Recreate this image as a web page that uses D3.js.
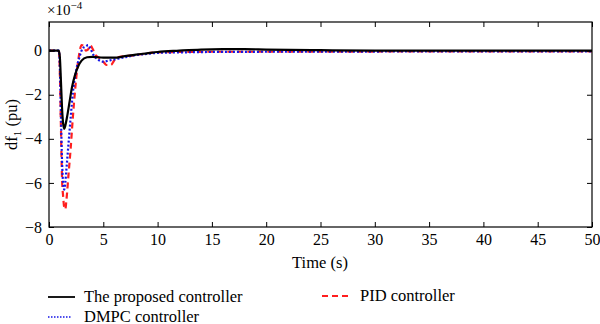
<!DOCTYPE html>
<html>
<head>
<meta charset="utf-8">
<script src="https://cdn.jsdelivr.net/npm/d3@7"></script>
<style>
  html, body { margin: 0; padding: 0; background: #fff; }
  svg { display: block; font-family: "Liberation Serif", "DejaVu Serif", serif; }
</style>
</head>
<body>
<svg id="chart" width="600" height="324"></svg>
<script>
// ---- Data (values in units of 1e-4 pu) ----
const xTicks = [0, 5, 10, 15, 20, 25, 30, 35, 40, 45, 50];
const yTicks = [0, -2, -4, -6, -8];

const tProposed = [0, 0.9, 1.0, 1.1, 1.2, 1.3, 1.4, 1.5, 1.7, 1.9, 2.1, 2.4, 2.7, 3.0, 3.5, 4, 5, 6, 7, 8, 9, 10, 12, 14, 16, 18, 20, 25, 30, 35, 40, 45, 50];
const vProposed = [0, 0, -0.3, -1.4, -2.6, -3.3, -3.55, -3.4, -2.9, -2.3, -1.7, -1.1, -0.7, -0.45, -0.3, -0.28, -0.32, -0.32, -0.25, -0.18, -0.12, -0.06, 0, 0.05, 0.07, 0.07, 0.05, 0.02, 0, 0, 0, 0, 0];

const tDMPC = [0, 0.9, 1.0, 1.1, 1.2, 1.3, 1.4, 1.5, 1.6, 1.8, 2.0, 2.2, 2.5, 2.8, 3.1, 3.4, 3.6, 3.8, 4.1, 4.5, 5.0, 5.5, 6, 6.5, 7, 8, 9, 10, 12, 15, 20, 30, 40, 50];
const vDMPC = [0, 0, -0.8, -3.0, -5.0, -6.0, -6.3, -6.0, -5.4, -4.2, -3.0, -1.9, -0.9, -0.3, 0.1, 0.2, 0.25, 0.1, -0.2, -0.4, -0.5, -0.45, -0.4, -0.35, -0.3, -0.2, -0.15, -0.1, -0.08, -0.06, -0.05, -0.04, -0.03, -0.03];

const tPID = [0, 0.9, 1.0, 1.1, 1.2, 1.3, 1.4, 1.5, 1.6, 1.8, 2.0, 2.2, 2.4, 2.6, 2.8, 3.0, 3.2, 3.4, 3.6, 3.8, 4.0, 4.3, 4.7, 5.0, 5.3, 5.7, 6.0, 6.3, 7, 8, 9, 10, 12, 15, 20, 30, 40, 50];
const vPID = [0, 0, -1.0, -3.5, -5.8, -6.6, -7.1, -7.2, -6.8, -5.6, -4.4, -3.0, -1.8, -0.8, -0.1, 0.25, 0.2, 0.0, 0.05, 0.25, 0.1, -0.2, -0.35, -0.5, -0.65, -0.65, -0.45, -0.3, -0.25, -0.2, -0.12, -0.08, -0.06, -0.05, -0.05, -0.04, -0.03, -0.03];

const seriesNames = ["The proposed controller", "DMPC controller", "PID controller"];

// ---- Layout ----
const svg = d3.select("#chart");
const L = 49, R = 592, T = 22, B = 227;
const x = d3.scaleLinear().domain([0, 50]).range([L, R]);
const y = d3.scaleLinear().domain([-8, 1.3]).range([B, T]);

const sProposed = { name: seriesNames[0], t: tProposed, v: vProposed, color: "#000000", dash: null, width: 2.2 };
const sDMPC = { name: seriesNames[1], t: tDMPC, v: vDMPC, color: "#1414e6", dash: "2,2", width: 2.2 };
const sPID = { name: seriesNames[2], t: tPID, v: vPID, color: "#ff1f1f", dash: "6,4", width: 2.2 };
const drawOrder = [sPID, sDMPC, sProposed];

const line = d3.line().x(d => x(d[0])).y(d => y(d[1])).curve(d3.curveMonotoneX);

svg.append("defs").append("clipPath").attr("id", "clip")
  .append("rect").attr("x", L).attr("y", T).attr("width", R - L).attr("height", B - T);

const g = svg.append("g").attr("clip-path", "url(#clip)");
drawOrder.forEach(s => {
  const pts = s.t.map((t, i) => [t, s.v[i]]);
  g.append("path").attr("d", line(pts))
    .attr("fill", "none").attr("stroke", s.color)
    .attr("stroke-width", s.width)
    .attr("stroke-dasharray", s.dash)
    .attr("stroke-linejoin", "round");
});

// ---- Axes ----
const fmt = d => d < 0 ? "\u2212" + Math.abs(d) : String(d);
const axB = d3.axisBottom(x).tickValues(xTicks).tickSize(-5).tickPadding(7).tickFormat(fmt);
const axT = d3.axisTop(x).tickValues(xTicks).tickSize(-5).tickFormat("");
const axL = d3.axisLeft(y).tickValues(yTicks).tickSize(-5).tickPadding(7).tickFormat(fmt);
const axR = d3.axisRight(y).tickValues(yTicks).tickSize(-5).tickFormat("");

function style(sel) {
  sel.select(".domain").remove();
  sel.selectAll("line").attr("stroke", "#000").attr("stroke-width", 1);
  sel.selectAll("text").attr("fill", "#000").attr("font-size", 16)
    .attr("font-family", "Liberation Serif, DejaVu Serif, serif");
}
svg.append("g").attr("transform", `translate(0,${B})`).call(axB).call(style);
svg.append("g").attr("transform", `translate(0,${T})`).call(axT).call(style);
svg.append("g").attr("transform", `translate(${L},0)`).call(axL).call(style);
svg.append("g").attr("transform", `translate(${R},0)`).call(axR).call(style);

svg.append("rect").attr("x", L).attr("y", T).attr("width", R - L).attr("height", B - T)
  .attr("fill", "none").attr("stroke", "#000").attr("stroke-width", 1.2);

// ---- Labels ----
const ex = svg.append("text").attr("x", 47).attr("y", 15).attr("font-size", 15);
ex.append("tspan").text("\u00d710");
ex.append("tspan").attr("font-size", 11).attr("dy", -6).text("\u22124");

svg.append("text").attr("x", 320).attr("y", 268).attr("text-anchor", "middle")
  .attr("font-size", 16.5).text("Time (s)");

const yl = svg.append("text").attr("transform", `translate(17,${(T + B) / 2}) rotate(-90)`)
  .attr("text-anchor", "middle").attr("font-size", 16.5);
yl.append("tspan").text("df");
yl.append("tspan").attr("font-size", 11).attr("dy", 4).text("1");
yl.append("tspan").attr("dy", -4).text(" (pu)");

// ---- Legend ----
const legend = [
  { s: sProposed, lx: 48, ly: 297, len: 27, tx: 84, lw: 1.8 },
  { s: sDMPC, lx: 48, ly: 317, len: 24, tx: 84, lw: 1.4 },
  { s: sPID, lx: 322, ly: 296, len: 30, tx: 360, lw: 1.8 }
];
legend.forEach(item => {
  const s = item.s;
  svg.append("line").attr("x1", item.lx).attr("x2", item.lx + item.len)
    .attr("y1", item.ly).attr("y2", item.ly)
    .attr("stroke", s.color).attr("stroke-width", item.lw)
    .attr("stroke-dasharray", s.dash === "2,2" ? "1.5,1.5" : s.dash);
  svg.append("text").attr("x", item.tx).attr("y", item.ly + 4.5)
    .attr("font-size", 16.5).text(s.name);
});
</script>
</body>
</html>
